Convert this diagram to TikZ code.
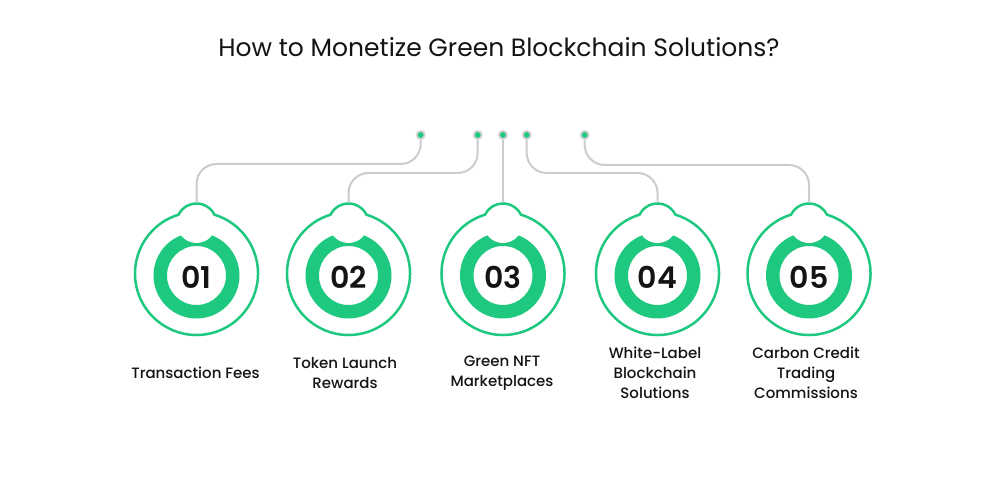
\documentclass[tikz,border=0pt]{standalone}
\usepackage{fontspec}
\setmainfont{Poppins}
\newfontfamily\pmed{Poppins Medium}
\newfontfamily\psemi{Poppins SemiBold}
\definecolor{grn}{RGB}{30,200,126}
\definecolor{linegray}{RGB}{204,204,204}
\definecolor{dotgray}{RGB}{210,210,210}
\definecolor{txt}{RGB}{20,20,20}
\begin{document}
\begin{tikzpicture}[x=1pt,y=1pt,
  conn/.style={draw=linegray, line width=2pt, rounded corners=20pt},
  outline/.style={draw=grn, line width=2.5pt},
  dotnode/.style={circle, fill=grn, draw=dotgray, line width=1.8pt, inner sep=0pt, minimum size=8pt},
  numtext/.style={font=\psemi\fontsize{30}{30}\selectfont, text=txt, inner sep=0pt},
  labeltext/.style={font=\pmed\fontsize{15}{20}\selectfont, text=txt, align=center, inner sep=0pt},
  titletext/.style={font=\fontsize{25}{29}\selectfont, text=txt, inner sep=0pt}]
\useasboundingbox (0,0) rectangle (1000,500);
\fill[white] (0,0) rectangle (1000,500);
\node[titletext] (title) at (499,453) {How to Monetize Green Blockchain Solutions?};
% badges
\foreach \cx/\i/\n/\lx/\txt in {196.5/1/01/195.5/{Transaction Fees},
  348.5/2/02/345/{Token Launch\\Rewards},
  503/3/03/502/{Green NFT\\Marketplaces},
  657.5/4/04/655/{White-Label\\Blockchain\\Solutions},
  809/5/05/806/{Carbon Credit\\Trading\\Commissions}}{
  \fill[grn, even odd rule] (\cx,224.5) circle[radius=43] (\cx,224.5) circle[radius=29.5];
  \fill[white] (\cx,276.5) circle[radius=19.5];
  \draw[outline] (\cx,226.5) ++(106.97:61.5) arc[start angle=106.97, end angle=433.03, radius=61.5]
     arc[start angle=26.17, end angle=153.83, radius=20] -- cycle;
  \coordinate (top\i) at (\cx,297.5);
  \node[numtext] (num\i) at (\cx,223) {\n};
  \node[labeltext] (lab\i) at (\lx,127) {\txt};
}
% dots
\foreach \dx/\i in {420.7/1,477.7/2,503/3,526.7/4,584.7/5}{
  \node[dotnode] (d\i) at (\dx,365) {};
}
% connectors
\draw[conn] (d1.south) -- (d1.south |- 0,336) -| (top1);
\draw[conn] (d2.south) -- (d2.south |- 0,327) -| (top2);
\draw[conn] (d3.south) -- (top3);
\draw[conn] (d4.south) -- (d4.south |- 0,327) -| (top4);
\draw[conn] (d5.south) -- (d5.south |- 0,335) -| (top5);
\end{tikzpicture}
\end{document}
